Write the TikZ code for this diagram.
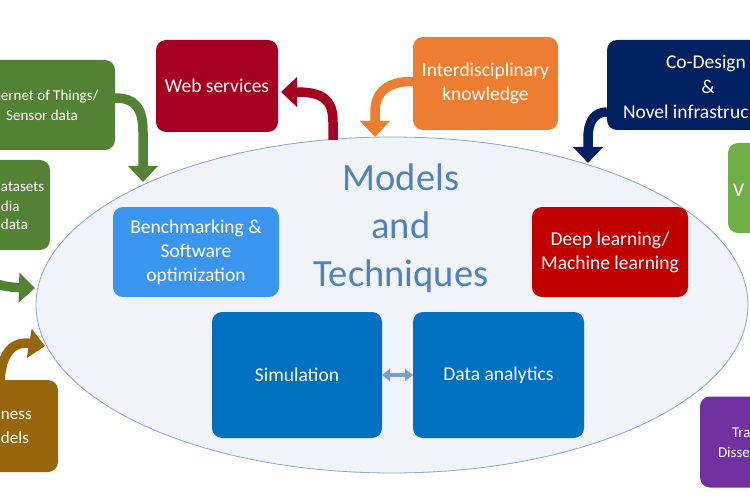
\documentclass[tikz,border=0pt]{standalone}
\usepackage{fontspec}
\setmainfont{Carlito}
\usetikzlibrary{arrows.meta,calc,shapes.geometric}
\definecolor{cIoT}{HTML}{548235}
\definecolor{cBus}{HTML}{97650C}
\definecolor{cWeb}{HTML}{A50021}
\definecolor{cInter}{HTML}{ED7D31}
\definecolor{cCo}{HTML}{002060}
\definecolor{cV}{HTML}{70AD47}
\definecolor{cPur}{HTML}{7030A0}
\definecolor{cBench}{HTML}{3A95EF}
\definecolor{cDeep}{HTML}{C00000}
\definecolor{cSim}{HTML}{0070C0}
\definecolor{cModels}{HTML}{4F81BD}
\definecolor{cDbl}{HTML}{739FD5}
\definecolor{cEllFill}{HTML}{F0F3FA}
\definecolor{cEllLine}{HTML}{8EA4C4}
\begin{document}
\begin{tikzpicture}[x=1pt,y=-1pt,
  box/.style={rounded corners=10pt, inner sep=0pt, outer sep=0pt, draw=none, text=white, align=center, font=\fontsize{19.5}{24}\selectfont},
  txt/.style={inner sep=0pt, outer sep=0pt, text=white, font=\fontsize{19.5}{24}\selectfont},
  smalltxt/.style={inner sep=0pt, outer sep=0pt, text=white, font=\fontsize{15}{18}\selectfont},
  midtxt/.style={inner sep=0pt, outer sep=0pt, text=white, font=\fontsize{17}{22}\selectfont},
  bigarrow/.style={line width=9.5pt, -{Triangle[width=29pt,length=16pt]}},
  dblarrow/.style={line width=4pt, draw=cDbl, {Triangle[width=12pt,length=8pt]}-{Triangle[width=12pt,length=8pt]}}
]
\clip (0,0) rectangle (750,500);
\fill[white] (0,0) rectangle (750,500);

% central ellipse
\node[ellipse, draw=cEllLine, line width=0.8pt, fill=cEllFill, minimum width=712pt, minimum height=336pt, inner sep=0pt] (core) at (392,305) {};
\node[inner sep=0pt, text=cModels, align=center, font=\fontsize{38.5}{48}\selectfont] (mt) at (401,228) {Models\\and\\Techniques};

% outer boxes
\node[box, fill=cIoT, minimum width=146pt, minimum height=90pt] (iot) at (42,105) {};
\node[smalltxt, anchor=west] (iotA) at (1,97) {ernet of Things/};
\node[smalltxt] (iotB) at (42,115) {Sensor data};

\node[box, fill=cIoT, minimum width=120pt, minimum height=90pt] (data) at (-10,205) {};
\node[smalltxt, anchor=west] (dataA) at (1,187) {atasets};
\node[smalltxt, anchor=west] (dataB) at (1,206) {dia};
\node[smalltxt, anchor=west] (dataC) at (1,224) {data};

\node[box, fill=cBus, minimum width=116pt, minimum height=92pt] (bus) at (0,426) {};
\node[midtxt, anchor=west] (busA) at (1,415) {ness};
\node[midtxt, anchor=west] (busB) at (1,438) {dels};

\node[box, fill=cWeb, minimum width=122pt, minimum height=92pt] (web) at (217,86) {Web services};

\node[box, fill=cInter, minimum width=145pt, minimum height=93pt] (inter) at (485.5,83.5) {Interdisciplinary\\knowledge};

\node[box, fill=cCo, minimum width=202pt, minimum height=90pt] (codes) at (708,85) {};
\node[txt] (coA) at (706,63) {Co-Design};
\node[txt] (coB) at (708,87) {\&};
\node[txt, anchor=west] (coC) at (623,112) {Novel infrastruc};

\node[box, fill=cV, minimum width=144pt, minimum height=90pt] (vbox) at (800,188) {};
\node[txt, anchor=west] (vA) at (733,190) {V};

\node[box, fill=cPur, minimum width=180pt, minimum height=91pt] (pur) at (790,442) {};
\node[smalltxt, anchor=west] (purA) at (732,433) {Tra};
\node[smalltxt, anchor=west] (purB) at (718,452) {Disse};

% inner boxes
\node[box, fill=cBench, minimum width=166pt, minimum height=90pt] (bench) at (196,252) {Benchmarking \&\\Software\\optimization};
\node[box, fill=cDeep, minimum width=156pt, minimum height=90pt] (deep) at (610,252) {Deep learning/\\Machine learning};
\node[box, fill=cSim, minimum width=170pt, minimum height=126pt] (sim) at (297,375) {Simulation};
\node[box, fill=cSim, minimum width=171pt, minimum height=126pt] (dat) at (498.5,375) {Data analytics};

% connector end points on the ellipse
\coordinate (tIoT) at (143,182);
\coordinate (tData) at (35,288);
\coordinate (tBus) at (45,346);
\coordinate (sWeb) at (333,140);
\coordinate (tInter) at (375,137);
\coordinate (tCo) at (588,163);

% curved arrows
\draw[bigarrow, draw=cIoT] ($(iot.east)+(0,-7)$) .. controls (135,98) and (143,108) .. (143,132) -- (tIoT);
\draw[bigarrow, draw=cIoT] ($(data.south)+(-15,0)$) .. controls (-20,280) and (-5,287) .. (tData);
\draw[bigarrow, draw=cBus] (bus.north) .. controls (2,350) and (15,341) .. (tBus);
\draw[bigarrow, draw=cWeb] (sWeb) -- (333,122) .. controls (333,99) and (322,92) .. ($(web.east)+(3,6)$);
\draw[bigarrow, draw=cInter] ($(inter.west)+(0,-2)$) .. controls (388,81) and (375,92) .. (375,112) -- (tInter);
\draw[bigarrow, draw=cCo] ($(codes.west)+(0,27)$) .. controls (594,112) and (588,122) .. (588,138) -- (tCo);

% double arrow
\draw[dblarrow] (sim.east) -- (dat.west);
\end{tikzpicture}
\end{document}
